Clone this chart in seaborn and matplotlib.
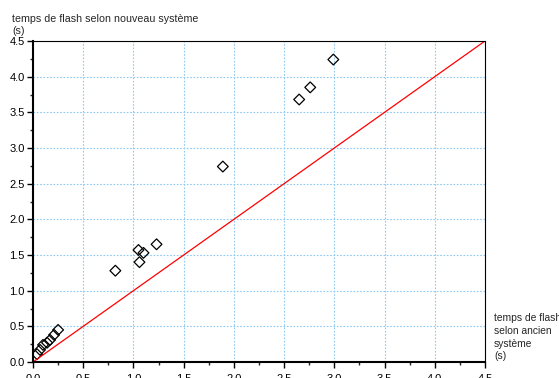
import matplotlib
matplotlib.use("Agg")
import matplotlib.pyplot as plt
import seaborn as sns
import numpy as np
import pandas as pd
from matplotlib.ticker import MultipleLocator

ancien = [0.04, 0.07, 0.10, 0.14, 0.17, 0.21, 0.25, 0.82, 1.05, 1.06, 1.10, 1.23, 1.89, 2.65, 2.76, 2.99]
nouveau = [0.11, 0.17, 0.24, 0.27, 0.31, 0.38, 0.45, 1.28, 1.57, 1.40, 1.53, 1.65, 2.74, 3.68, 3.85, 4.24]
ref_line = [0.0, 4.5]

sns.set_style("white")
plt.rcParams['font.family'] = ['Liberation Sans', 'DejaVu Sans']

fig = plt.figure(figsize=(5.59, 3.78), dpi=100)
ax = fig.add_axes([33/559, 1-362/378, (485-33)/559, (362-41)/378])

df = pd.DataFrame({"ancien": ancien, "nouveau": nouveau})
sns.lineplot(x=ref_line, y=ref_line, ax=ax, color="#ff0000", linewidth=0.9)
sns.scatterplot(data=df, x="ancien", y="nouveau", ax=ax, marker="D", s=30,
                facecolor="none", edgecolor="black", linewidth=0.9)

ax.set_xlim(0, 4.5)
ax.set_ylim(0, 4.5)
ax.xaxis.set_major_locator(MultipleLocator(0.5))
ax.yaxis.set_major_locator(MultipleLocator(0.5))
ax.xaxis.set_minor_locator(MultipleLocator(0.25))
ax.yaxis.set_minor_locator(MultipleLocator(0.25))
ax.xaxis.set_major_formatter(matplotlib.ticker.FormatStrFormatter('%.1f'))
ax.yaxis.set_major_formatter(matplotlib.ticker.FormatStrFormatter('%.1f'))
ax.grid(True, which="major", color="#8fcaf5", linestyle=(0, (1.5, 1.5)), linewidth=0.8)
ax.set_axisbelow(True)
for s in ["left", "bottom"]:
    ax.spines[s].set_linewidth(1.5)
for s in ["top", "right"]:
    ax.spines[s].set_linewidth(0.8)
for s in ax.spines.values():
    s.set_color("black")
ax.tick_params(which="major", direction="out", length=4, width=1, labelsize=8, pad=2,
               bottom=True, left=True, colors="black")
ax.tick_params(axis="x", which="major", pad=5)
ax.tick_params(which="minor", direction="out", length=2.5, width=1, bottom=True, left=True)
ax.set_xlabel("")
ax.set_ylabel("")

fig.text(12/559, 1-36/378, "temps de flash selon nouveau système\n(s)", fontsize=7.7,
         ha="left", va="bottom", linespacing=1.25)
fig.text(494/559, 1-313/378, "temps de flash\nselon ancien\nsystème\n(s)", fontsize=7.4,
         ha="left", va="top", linespacing=1.35)

fig.savefig("out.png", dpi=100)
